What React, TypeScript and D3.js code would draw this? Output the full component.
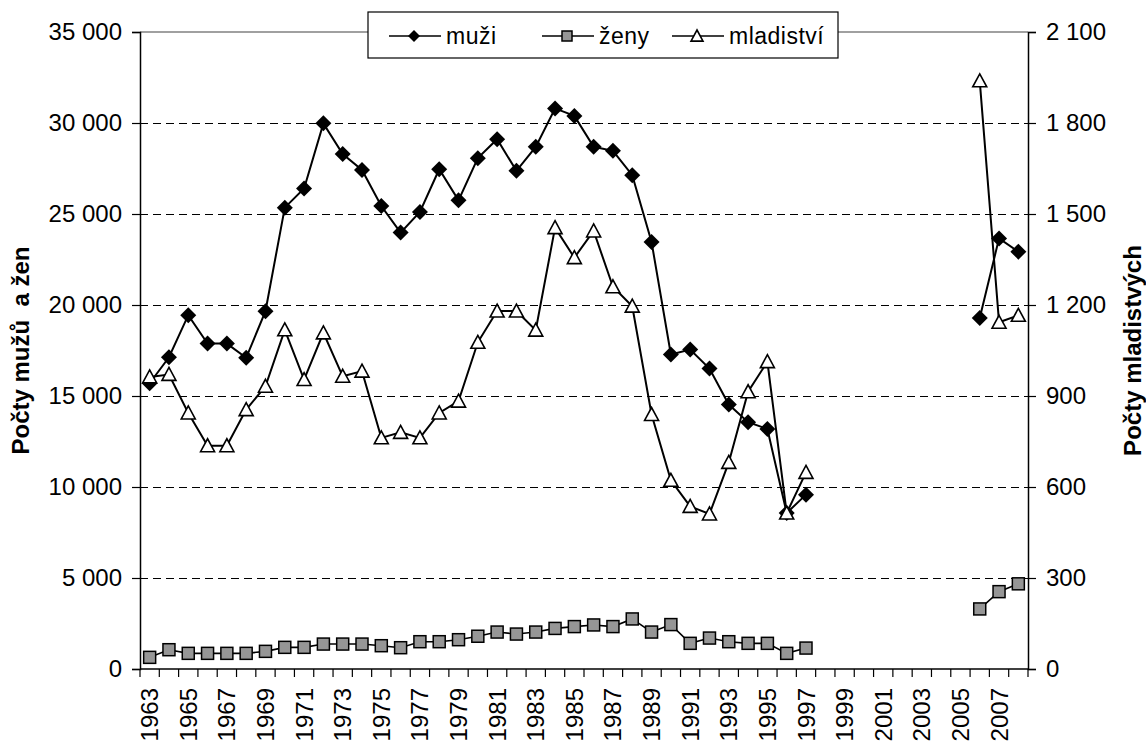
import React, { useEffect, useRef } from "react";
import * as d3 from "d3";

const years = [
  1963, 1964, 1965, 1966, 1967, 1968, 1969, 1970, 1971, 1972, 1973, 1974, 1975, 1976, 1977, 1978,
  1979, 1980, 1981, 1982, 1983, 1984, 1985, 1986, 1987, 1988, 1989, 1990, 1991, 1992, 1993, 1994,
  1995, 1996, 1997, 1998, 1999, 2000, 2001, 2002, 2003, 2004, 2005, 2006, 2007, 2008,
];

// muži (left axis)
const muzi = [
  15700, 17130, 19440, 17880, 17880, 17100, 19660, 25350, 26400, 29980, 28290, 27420, 25440, 23980,
  25110, 27460, 25750, 28070, 29110, 27370, 28690, 30800, 30390, 28690, 28470, 27130, 23460, 17280,
  17550, 16510, 14530, 13560, 13190, 8570, 9580, null, null, null, null, null, null, null, null,
  19280, 23660, 22930,
];

// ženy (left axis)
const zeny = [
  640, 1060, 860, 860, 860, 860, 970, 1190, 1190, 1370, 1370, 1370, 1280, 1170, 1500, 1500, 1610,
  1800, 2030, 1920, 2030, 2230, 2330, 2420, 2330, 2750, 2030, 2440, 1410, 1700, 1500, 1410, 1410,
  860, 1150, null, null, null, null, null, null, null, null, 3300, 4250, 4680,
];

// mladiství (right axis)
const mladistvi = [
  963, 971, 844, 736, 736, 855, 932, 1118, 954, 1108, 965, 982, 762, 780, 762, 844, 883, 1077, 1180,
  1180, 1117, 1455, 1356, 1444, 1260, 1196, 839, 622, 536, 511, 681, 914, 1013, 514, 648, null, null,
  null, null, null, null, null, null, 1939, 1143, 1166,
];

const leftTicks = [0, 5000, 10000, 15000, 20000, 25000, 30000, 35000];
const rightTicks = [0, 300, 600, 900, 1200, 1500, 1800, 2100];
const labelYears = years.filter((y) => (y - 1963) % 2 === 0);

const seriesNames = ["muži", "ženy", "mladiství"];

const W = 1146;
const H = 742;
const FONT = "'Liberation Sans', Arial, sans-serif";

const App = () => {
  const ref = useRef(null);

  useEffect(() => {
    const svg = d3.select(ref.current);
    svg.selectAll("*").remove();

    const left = 140;
    const right = 1028;
    const top = 32;
    const bottom = 669;

    const fmt = d3.formatLocale({ decimal: ",", thousands: " ", grouping: [3], currency: ["", ""] }).format(",");

    const x = d3.scaleBand().domain(years.map(String)).range([left, right]).padding(0);
    const yL = d3.scaleLinear().domain([0, 35000]).range([bottom, top]);
    const yR = d3.scaleLinear().domain([0, 2100]).range([bottom, top]);
    const cx = (i) => x(String(years[i])) + x.bandwidth() / 2;

    svg.append("rect").attr("width", W).attr("height", H).attr("fill", "#fff");

    // gridlines
    svg
      .append("g")
      .selectAll("line")
      .data(leftTicks.filter((t) => t > 0 && t < 35000))
      .enter()
      .append("line")
      .attr("x1", left)
      .attr("x2", right)
      .attr("y1", (d) => Math.round(yL(d)) + 0.5)
      .attr("y2", (d) => Math.round(yL(d)) + 0.5)
      .attr("stroke", "#000")
      .attr("stroke-width", 1)
      .attr("stroke-dasharray", "8,5");

    // top border
    svg.append("line").attr("x1", left).attr("x2", right).attr("y1", top).attr("y2", top).attr("stroke", "#808080").attr("stroke-width", 1.5);

    // left axis
    const gL = svg.append("g").attr("transform", `translate(${left},0)`);
    gL.call(d3.axisLeft(yL).tickValues(leftTicks).tickSize(8).tickPadding(10).tickFormat((d) => fmt(d)));
    // right axis
    const gR = svg.append("g").attr("transform", `translate(${right},0)`);
    gR.call(d3.axisRight(yR).tickValues(rightTicks).tickSize(8).tickPadding(10).tickFormat((d) => fmt(d)));

    [gL, gR].forEach((g) => {
      g.select(".domain").attr("stroke", "#000").attr("stroke-width", 1.5);
      g.selectAll(".tick line").attr("stroke", "#000").attr("stroke-width", 1.2);
      g.selectAll("text").attr("font-family", FONT).attr("font-size", 24).attr("fill", "#000");
    });

    // x axis
    const gX = svg.append("g");
    gX.append("line").attr("x1", left).attr("x2", right).attr("y1", bottom).attr("y2", bottom).attr("stroke", "#000").attr("stroke-width", 1.5);
    const bounds = years.map((y) => x(String(y))).concat([right]);
    gX
      .selectAll(".xt")
      .data(bounds)
      .enter()
      .append("line")
      .attr("x1", (d) => d)
      .attr("x2", (d) => d)
      .attr("y1", bottom)
      .attr("y2", bottom + 8)
      .attr("stroke", "#000")
      .attr("stroke-width", 1.2);
    gX
      .selectAll(".xl")
      .data(labelYears)
      .enter()
      .append("text")
      .attr("transform", (d) => `translate(${x(String(d)) + x.bandwidth() / 2 + 8.5},${bottom + 19}) rotate(-90)`)
      .attr("text-anchor", "end")
      .attr("font-family", FONT)
      .attr("font-size", 24)
      .text((d) => d);

    // axis titles
    svg
      .append("text")
      .attr("transform", `translate(29,${(top + bottom) / 2}) rotate(-90)`)
      .attr("text-anchor", "middle")
      .attr("font-family", FONT)
      .attr("font-size", 24)
      .attr("font-weight", "bold")
      .style("white-space", "pre")
      .text("Počty mužů  a žen");
    svg
      .append("text")
      .attr("transform", `translate(1141,${(top + bottom) / 2}) rotate(-90)`)
      .attr("text-anchor", "middle")
      .attr("font-family", FONT)
      .attr("font-size", 24)
      .attr("font-weight", "bold")
      .text("Počty mladistvých");

    const lineL = d3
      .line()
      .defined((d) => d != null)
      .x((d, i) => cx(i))
      .y((d) => yL(d));
    const lineR = d3
      .line()
      .defined((d) => d != null)
      .x((d, i) => cx(i))
      .y((d) => yR(d));

    const diamond = (g, px, py, s = 8) =>
      g.append("path").attr("d", `M${px},${py - s}L${px + s},${py}L${px},${py + s}L${px - s},${py}Z`).attr("fill", "#000");
    const square = (g, px, py, s = 6) =>
      g
        .append("rect")
        .attr("x", px - s)
        .attr("y", py - s)
        .attr("width", 2 * s)
        .attr("height", 2 * s)
        .attr("fill", "#969696")
        .attr("stroke", "#000")
        .attr("stroke-width", 1.5);
    const triangle = (g, px, py, s = 7) =>
      g
        .append("path")
        .attr("d", `M${px},${py - s}L${px + s},${py + s * 0.85}L${px - s},${py + s * 0.85}Z`)
        .attr("fill", "#fff")
        .attr("stroke", "#000")
        .attr("stroke-width", 1.6);

    const plot = svg.append("g");
    plot.append("path").attr("d", lineL(zeny)).attr("fill", "none").attr("stroke", "#000").attr("stroke-width", 1.6);
    plot.append("path").attr("d", lineL(muzi)).attr("fill", "none").attr("stroke", "#000").attr("stroke-width", 2);
    plot.append("path").attr("d", lineR(mladistvi)).attr("fill", "none").attr("stroke", "#000").attr("stroke-width", 2);

    zeny.forEach((v, i) => v != null && square(plot, cx(i), yL(v)));
    muzi.forEach((v, i) => v != null && diamond(plot, cx(i), yL(v)));
    mladistvi.forEach((v, i) => v != null && triangle(plot, cx(i), yR(v)));

    // legend
    const lg = svg.append("g");
    lg.append("rect").attr("x", 368).attr("y", 12).attr("width", 470).attr("height", 46).attr("fill", "#fff").attr("stroke", "#000").attr("stroke-width", 1.2);
    const items = [
      { x0: 389, name: seriesNames[0], mark: diamond, args: [6] },
      { x0: 542, name: seriesNames[1], mark: square, args: [5] },
      { x0: 672, name: seriesNames[2], mark: triangle, args: [6] },
    ];
    items.forEach((it) => {
      const ly = 36;
      lg.append("line").attr("x1", it.x0).attr("x2", it.x0 + 52).attr("y1", ly).attr("y2", ly).attr("stroke", "#000").attr("stroke-width", 1.5);
      it.mark(lg, it.x0 + 25, ly, ...it.args);
      lg.append("text")
        .attr("x", it.x0 + 57)
        .attr("y", ly + 8)
        .attr("font-family", FONT)
        .attr("font-size", 23)
        .attr("letter-spacing", 0.5)
        .text(it.name);
    });
  }, []);

  return <svg ref={ref} width={W} height={H} style={{ position: "absolute", left: 0, top: 0, display: "block" }} />;
};

export default App;
